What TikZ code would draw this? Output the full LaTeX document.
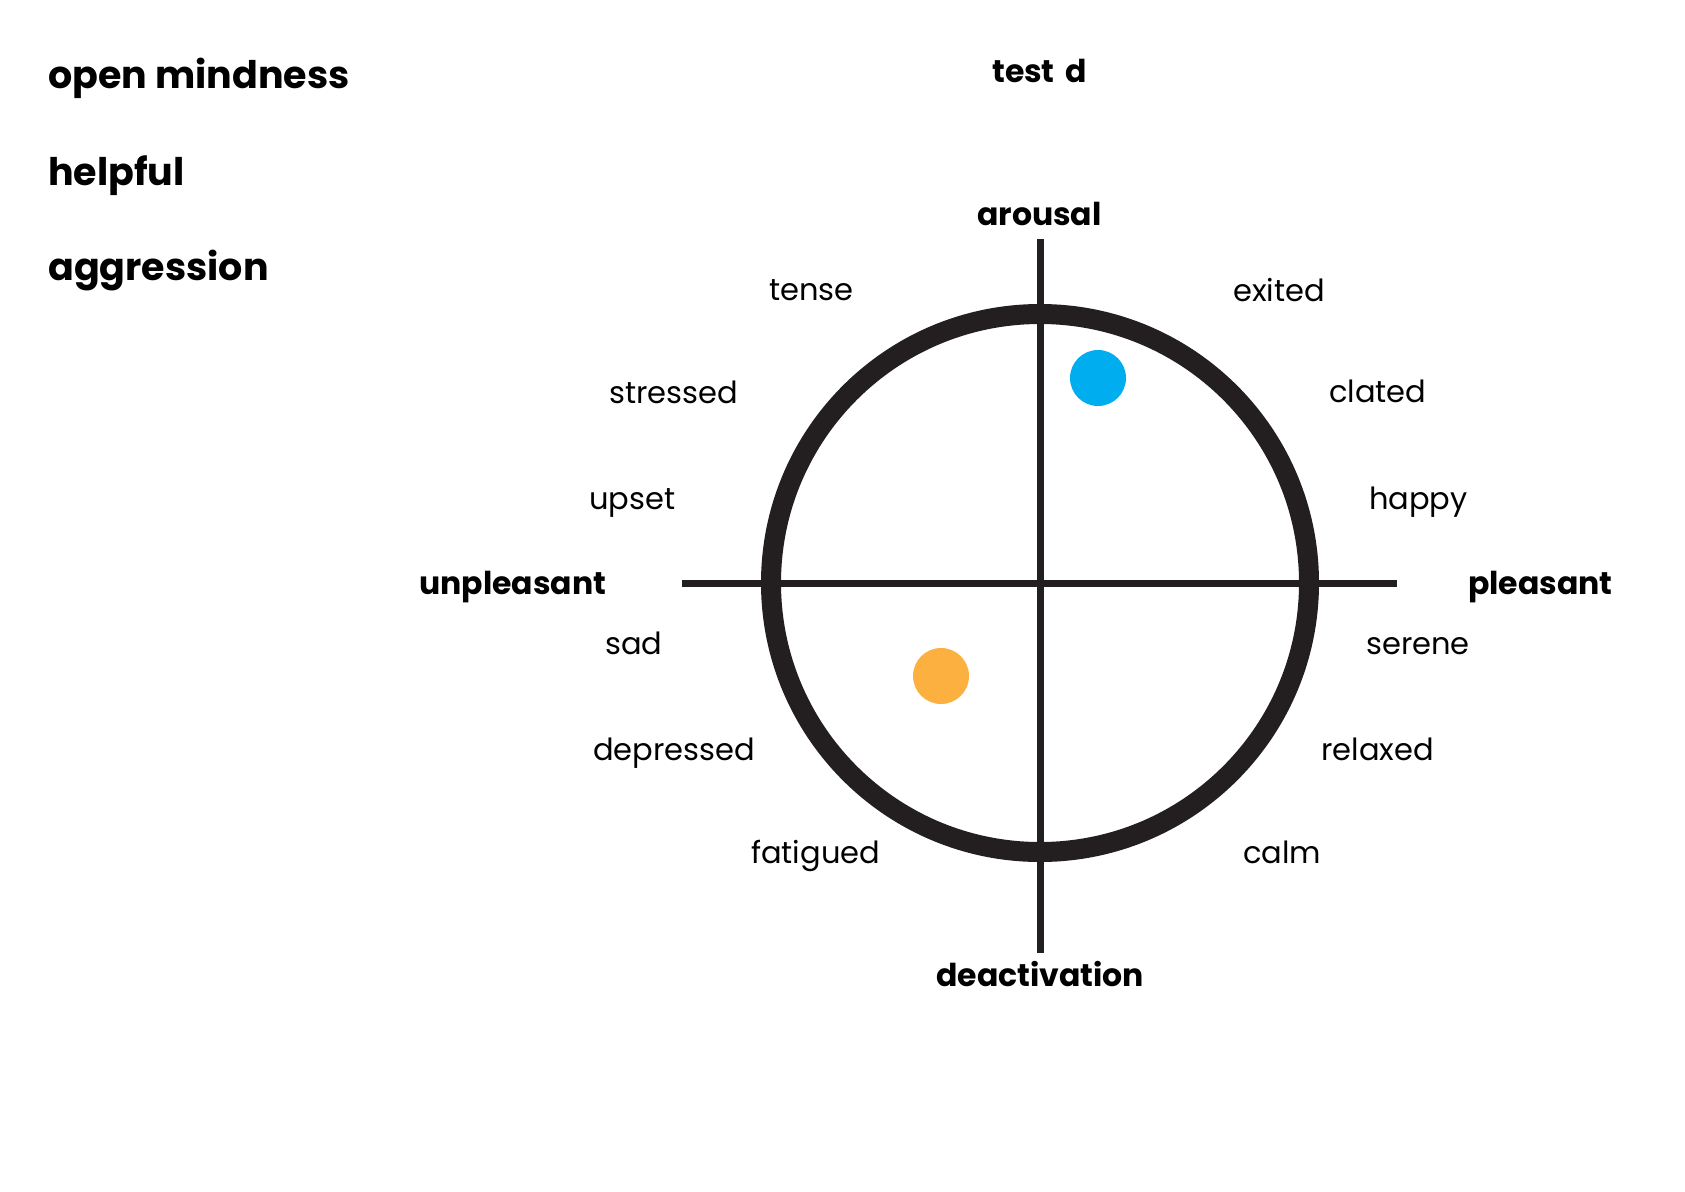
\documentclass[tikz,border=0pt]{standalone}
\usepackage{fontspec}
\setmainfont{Poppins}
\definecolor{ink}{HTML}{231F20}
\definecolor{dotblue}{HTML}{00AEEF}
\definecolor{dotorange}{HTML}{FBB040}
\begin{document}
\begin{tikzpicture}[x=1pt,y=-1pt,
  lbl/.style={anchor=base west,inner sep=0pt,font=\fontsize{30.5}{36}\selectfont},
  blbl/.style={anchor=base west,inner sep=0pt,font=\fontsize{31.5}{37}\selectfont\bfseries},
  big/.style={anchor=base west,inner sep=0pt,font=\fontsize{38}{44}\selectfont\bfseries},
  axis/.style={draw=ink,line width=7pt},
  ring/.style={circle,draw=ink,line width=20pt,minimum size=538pt,inner sep=0pt},
  dot/.style={circle,inner sep=0pt,minimum size=56pt}]
\useasboundingbox (0,0) rectangle (1685,1191);
\fill[white] (0,0) rectangle (1685,1191);
\coordinate (c) at (1040,583);
\coordinate (top) at (1040,239);
\coordinate (bot) at (1040,953);
\coordinate (lft) at (682,583);
\coordinate (rgt) at (1397,583);
\draw[axis] (top) -- (bot);
\draw[axis] (lft) -- (rgt);
\node[ring] (circ) at (c) {};
\node[dot,fill=dotblue] (blue) at (1098,378) {};
\node[dot,fill=dotorange] (orange) at (941,676) {};
\node[big] (om) at (48,88) {open mindness};
\node[big] (hp) at (48,185) {helpful};
\node[big] (ag) at (48,280) {aggression};
\node[blbl] (td) at (992,82) {test\hspace{4pt} d};
\node[blbl] (ar) at (977,225) {arousal};
\node[blbl] (un) at (419,594) {unpleasant};
\node[blbl] (pl) at (1468,594) {pleasant};
\node[blbl] (de) at (936,986) {deactivation};
\node[lbl] (l1) at (769,300) {tense};
\node[lbl] (l2) at (1233,301) {exited};
\node[lbl] (l3) at (609,403) {stressed};
\node[lbl] (l4) at (1329,402) {clated};
\node[lbl] (l5) at (589,509) {upset};
\node[lbl] (l6) at (1369,509) {happy};
\node[lbl] (l7) at (605,654) {sad};
\node[lbl] (l8) at (1366,654) {serene};
\node[lbl] (l9) at (593,760) {depressed};
\node[lbl] (l10) at (1321,760) {relaxed};
\node[lbl] (l11) at (751,863) {fatigued};
\node[lbl] (l12) at (1243,863) {calm};
\end{tikzpicture}
\end{document}
